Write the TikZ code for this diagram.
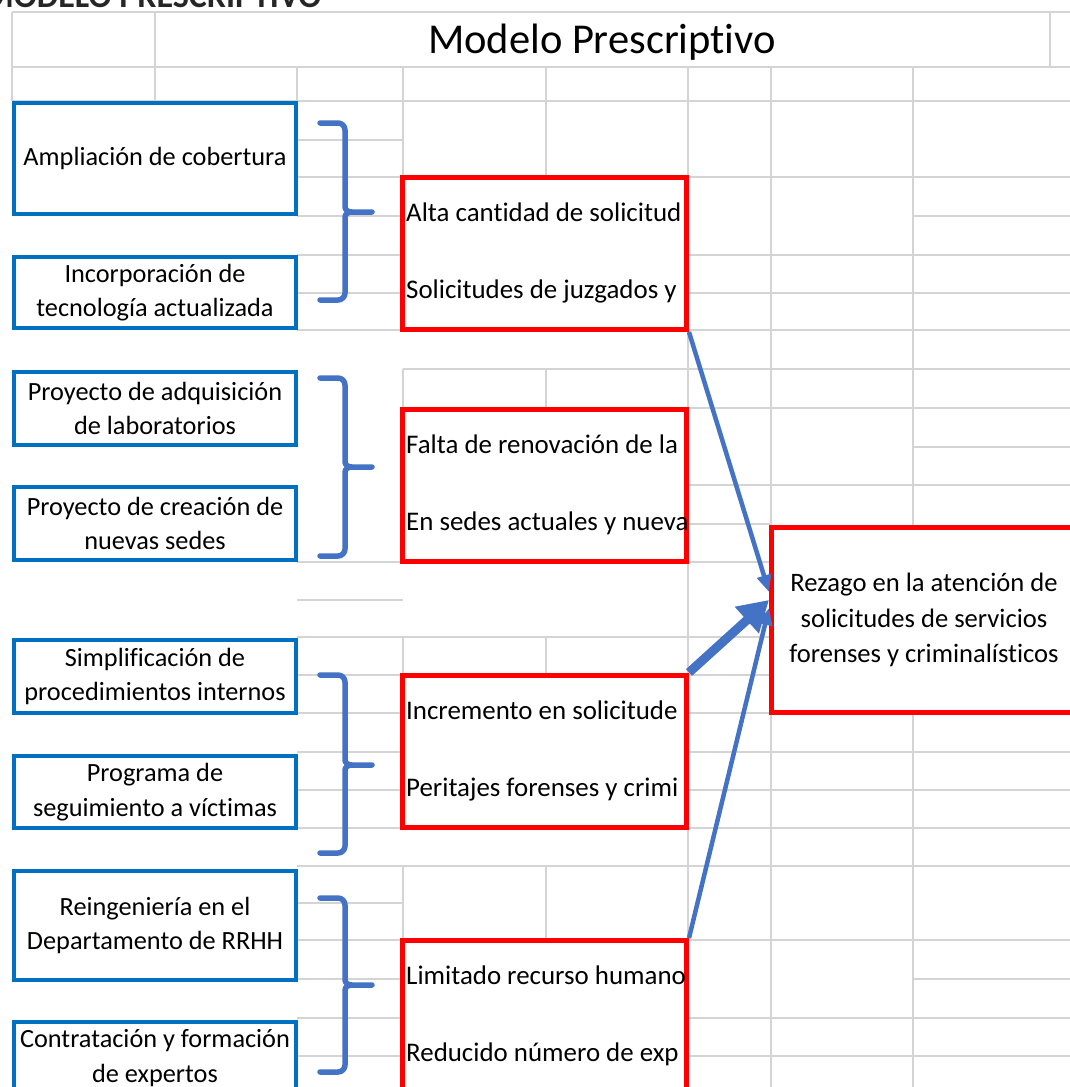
\documentclass[tikz,border=0pt]{standalone}
\usepackage{fontspec}
\setmainfont{Carlito}[Ligatures=NoCommon]
\usetikzlibrary{arrows.meta}
\definecolor{xlgrid}{RGB}{212,212,212}
\definecolor{boxblue}{RGB}{0,112,192}
\definecolor{boxred}{RGB}{255,0,0}
\definecolor{arrblue}{RGB}{68,114,196}

\begin{document}
\begin{tikzpicture}[x=1pt,y=-1pt,font=\fontsize{26.3}{34.5}\selectfont,
  gridln/.style={draw=xlgrid,line width=1.6pt},
  causa/.style={draw=boxblue,line width=4.5pt,fill=white,align=center,minimum width=282pt,inner sep=0pt},
  efecto/.style={draw=boxred,line width=5pt,fill=white,minimum width=284pt,minimum height=152pt,inner sep=0pt},
  celda/.style={anchor=base west,inner sep=0pt,font=\fontsize{26.9}{34.5}\selectfont},
  llave/.style={draw=arrblue,line width=5.5pt,line cap=round,line join=round},
  flecha/.style={draw=arrblue,line width=4.5pt,-{Triangle[length=17pt,width=14pt]}},
  flechagruesa/.style={draw=arrblue,line width=9pt,-{Triangle[length=30pt,width=34pt]}}]
  \useasboundingbox (0,0) rectangle (1070,1087);
  \clip (0,0) rectangle (1070,1087);
  % cut-off heading at the top edge
  \node[anchor=base west,inner sep=0pt,text=black!85,font=\fontsize{34}{34}\selectfont\bfseries] (cabecera) at (-16,7) {MODELO PRESCRIPTIVO};
  % spreadsheet grid
  \foreach \gy/\xa/\xb in {12/12/1070, 67/12/1070, 101/12/1070, 140/297/403, 177/297/1070,
                           216/297/403, 216/913/1070, 255/297/1070, 293/297/1070, 330/297/1070,
                           369/403/1070, 408/403/1070, 447/913/1070, 485/688/1070, 524/688/771,
                           562/297/771, 600/297/403, 637/297/771, 675/297/771, 713/297/1070,
                           752/297/1070, 790/297/1070, 828/297/1070, 866/297/1070, 903/297/403,
                           940/297/1070, 979/297/403, 979/913/1070, 1018/297/1070, 1056/297/1070}
    \draw[gridln] (\xa,\gy) -- (\xb,\gy);
  \foreach \gx/\ya/\yb in {12/12/101, 155/12/101, 1050/12/67, 297/67/101, 403/67/177, 546/67/177,
                           688/67/177, 403/369/408, 546/369/408, 688/330/408, 403/637/675,
                           546/637/675, 688/562/675, 403/866/940, 546/866/940, 688/829/940,
                           771/67/1087, 913/67/1087}
    \draw[gridln] (\gx,\ya) -- (\gx,\yb);
  \node[anchor=base,font=\fontsize{42.5}{42.5}\selectfont] (titulo) at (602,53) {Modelo Prescriptivo};
  % actions
  \node[causa,minimum height=111pt] (amp) at (155,158.5) {Ampliación de cobertura};
  \node[causa,minimum height=71pt] (tec) at (155,292.5) {Incorporación de\\tecnología actualizada};
  \node[causa,minimum height=73pt] (lab) at (155,408.5) {Proyecto de adquisición\\de laboratorios};
  \node[causa,minimum height=73pt] (sed) at (155,523.5) {Proyecto de creación de\\nuevas sedes};
  \node[causa,minimum height=73pt] (sim) at (155,676.5) {Simplificación de\\procedimientos internos};
  \node[causa,minimum height=72pt] (vic) at (155,792) {Programa de\\seguimiento a víctimas};
  \node[causa,minimum height=109pt] (rrhh) at (155,925.5) {Reingeniería en el\\Departamento de RRHH};
  \node[causa,minimum height=72pt] (expe) at (155,1058) {Contratación y formación\\de expertos};
  % causes
  \node[efecto] (alta) at (544.5,253.5) {};
  \node[efecto] (reno) at (544.5,485) {};
  \node[efecto] (incr) at (544.5,751) {};
  \node[efecto] (perso) at (544.5,1016.5) {};
  \foreach \bx/\ta/\tb in {alta/{Alta cantidad de solicitud}/{Solicitudes de juzgados y},
                           reno/{Falta de renovación de la}/{En sedes actuales y nueva},
                           incr/{Incremento en solicitude}/{Peritajes forenses y crimi},
                           perso/{Limitado recurso humano}/{Reducido número de exp}}{
    \begin{scope}
      \clip ([shift={(2.5pt,-2.5pt)}]\bx.north west) rectangle ([shift={(-2.5pt,2.5pt)}]\bx.south east);
      \node[celda] (\bx-1) at ([shift={(6pt,-46.5pt)}]\bx.north west) {\ta};
      \node[celda] (\bx-2) at ([shift={(6pt,-123.5pt)}]\bx.north west) {\tb};
    \end{scope}
  }
  % problem
  \node[draw=boxred,line width=5pt,fill=white,minimum width=305pt,minimum height=185pt,align=center,
        inner sep=0pt,font=\fontsize{26.6}{35.5}\selectfont] (rezago) at (924,620)
        {Rezago en la atención de\\solicitudes de servicios\\forenses y criminalísticos};
  % braces
  \foreach \ya/\ym/\yb in {123/212/300, 378/467/556, 675/765/853, 898/985/1072}
    \draw[llave] (320,\ya) -- (338,\ya) to[out=0,in=90] (345,\ya+7) -- (345,\ym-5)
      to[out=-90,in=180] (352,\ym) -- (372,\ym)
      (352,\ym) to[out=180,in=90] (345,\ym+5) -- (345,\yb-7) to[out=-90,in=0] (338,\yb) -- (320,\yb);
  % arrows
  \draw[flecha] (alta.south east) -- ([yshift=28pt]rezago.west);
  \draw[flecha] (perso.north east) -- ([yshift=12pt]rezago.west);
  \draw[flechagruesa] (incr.north east) -- ([yshift=20pt]rezago.west);
\end{tikzpicture}
\end{document}
